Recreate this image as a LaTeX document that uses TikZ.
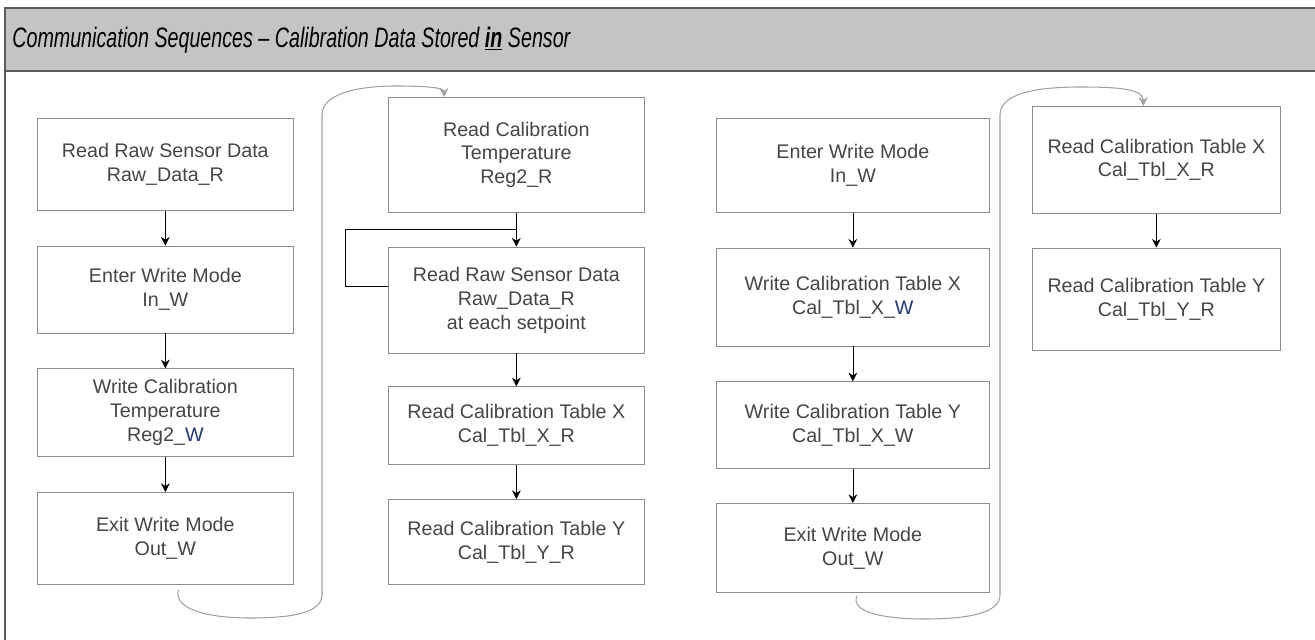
\documentclass[tikz,border=0pt]{standalone}
\usepackage{xcolor}
\usepackage{fontspec}
\setmainfont{Liberation Sans}
\newfontfamily\titlefont[FakeStretch=0.7]{Liberation Sans}
\usepackage{tikz}
\usetikzlibrary{shapes,arrows,arrows.meta,positioning,calc}
\definecolor{bandgray}{HTML}{C4C4C4}
\definecolor{framegray}{HTML}{5A5A5A}
\definecolor{boxgray}{HTML}{8C8C8C}
\definecolor{txtgray}{HTML}{454545}
\definecolor{hopgray}{HTML}{A0A0A0}
\definecolor{navy}{HTML}{1F3A78}
\newcommand{\boxfont}{\fontsize{11.2}{13.6}\selectfont}
\tikzstyle{stepbox} = [rectangle, draw=boxgray, text=txtgray, align=center, font=\boxfont, inner sep=0pt]
\tikzstyle{arrow} = [-{Stealth[length=5pt,width=5pt]}, black]
\tikzstyle{line} = [black]
\tikzstyle{hop} = [hopgray, semithick, -{Stealth[length=5pt,width=5pt]}]

\begin{document}
\begin{tikzpicture}[node distance=0.7cm]
\useasboundingbox (0,0) rectangle (26.3,-12.8);
% header band and frame
\draw [framegray, line width=1.1pt, fill=bandgray] (0.1,-0.16) rectangle (26.5,-1.42);
\draw [framegray, line width=1.1pt] (0.1,-1.42) -- (0.1,-12.9);
\node (title) [anchor=west, inner sep=0pt, font=\titlefont\fontsize{16}{18}\selectfont\itshape] at (0.24,-0.8)
  {Communication Sequences – Calibration Data Stored \underline{\textbf{in}} Sensor};

% first sequence
\node (a1) [stepbox, minimum width=5.12cm, minimum height=1.84cm, anchor=north west] at (0.74,-2.36) {Read Raw Sensor Data\\Raw\_Data\_R};
\node (a2) [stepbox, minimum width=5.12cm, minimum height=1.74cm, below = of a1] {Enter Write Mode\\In\_W};
\node (a3) [stepbox, minimum width=5.12cm, minimum height=1.76cm, below = of a2] {Write Calibration\\Temperature\\Reg2\_{\color{navy}W}};
\node (a4) [stepbox, minimum width=5.12cm, minimum height=1.84cm, below = of a3] {Exit Write Mode\\Out\_W};

\node (b1) [stepbox, minimum width=5.12cm, minimum height=2.3cm, anchor=north west] at (7.76,-1.94) {Read Calibration\\Temperature\\Reg2\_R};
\node (b2) [stepbox, minimum width=5.12cm, minimum height=2.12cm, below = 0.68cm of b1] {Read Raw Sensor Data\\Raw\_Data\_R\\at each setpoint};
\node (b3) [stepbox, minimum width=5.12cm, minimum height=1.56cm, below = 0.66cm of b2] {Read Calibration Table X\\Cal\_Tbl\_X\_R};
\node (b4) [stepbox, minimum width=5.12cm, minimum height=1.7cm, below = 0.68cm of b3] {Read Calibration Table Y\\Cal\_Tbl\_Y\_R};

% second sequence
\node (c1) [stepbox, minimum width=5.46cm, minimum height=1.88cm, anchor=north west] at (14.32,-2.36) {Enter Write Mode\\In\_W};
\node (c2) [stepbox, minimum width=5.46cm, minimum height=1.96cm, below = of c1] {Write Calibration Table X\\Cal\_Tbl\_X\_{\color{navy}W}};
\node (c3) [stepbox, minimum width=5.46cm, minimum height=1.74cm, below = of c2] {Write Calibration Table Y\\Cal\_Tbl\_X\_W};
\node (c4) [stepbox, minimum width=5.46cm, minimum height=1.78cm, below = 0.68cm of c3] {Exit Write Mode\\Out\_W};

\node (d1) [stepbox, minimum width=4.96cm, minimum height=2.14cm, anchor=north west] at (20.64,-2.12) {Read Calibration Table X\\Cal\_Tbl\_X\_R};
\node (d2) [stepbox, minimum width=4.96cm, minimum height=2.04cm, below = 0.68cm of d1] {Read Calibration Table Y\\Cal\_Tbl\_Y\_R};

\coordinate (join) at ($(b1.south)!0.5!(b2.north)$);

\draw [arrow] (a1) -- (a2);
\draw [arrow] (a2) -- (a3);
\draw [arrow] (a3) -- (a4);
\draw [arrow] (b1) -- (b2);
\draw [line] ([yshift=0.28cm]b2.west) -- ++(-0.86,0) |- (join);
\draw [arrow] (b2) -- (b3);
\draw [arrow] (b3) -- (b4);
\draw [arrow] (c1) -- (c2);
\draw [arrow] (c2) -- (c3);
\draw [arrow] (c3) -- (c4);
\draw [arrow] (d1) -- (d2);

% hops between the columns
\draw [hop] ([xshift=0.26cm,yshift=-0.1cm]a4.south) .. controls (3.46,-12.2) and (4.2,-12.36) .. (5.0,-12.36)
  .. controls (5.9,-12.36) and (6.44,-12.24) .. (6.44,-11.9) -- (6.44,-2.3)
  .. controls (6.44,-1.8) and (7.4,-1.72) .. (7.9,-1.72)
  .. controls (8.6,-1.72) and (8.88,-1.76) .. ([xshift=-1.44cm]b1.north);
\draw [hop] ([xshift=0.08cm,yshift=-0.06cm]c4.south) .. controls (17.0,-12.25) and (17.7,-12.38) .. (18.5,-12.38)
  .. controls (19.4,-12.38) and (20.0,-12.25) .. (20.0,-11.9) -- (20.0,-2.3)
  .. controls (20.0,-1.82) and (20.9,-1.74) .. (21.6,-1.74)
  .. controls (22.5,-1.74) and (22.86,-1.8) .. ([xshift=-0.26cm]d1.north);
\end{tikzpicture}
\end{document}
